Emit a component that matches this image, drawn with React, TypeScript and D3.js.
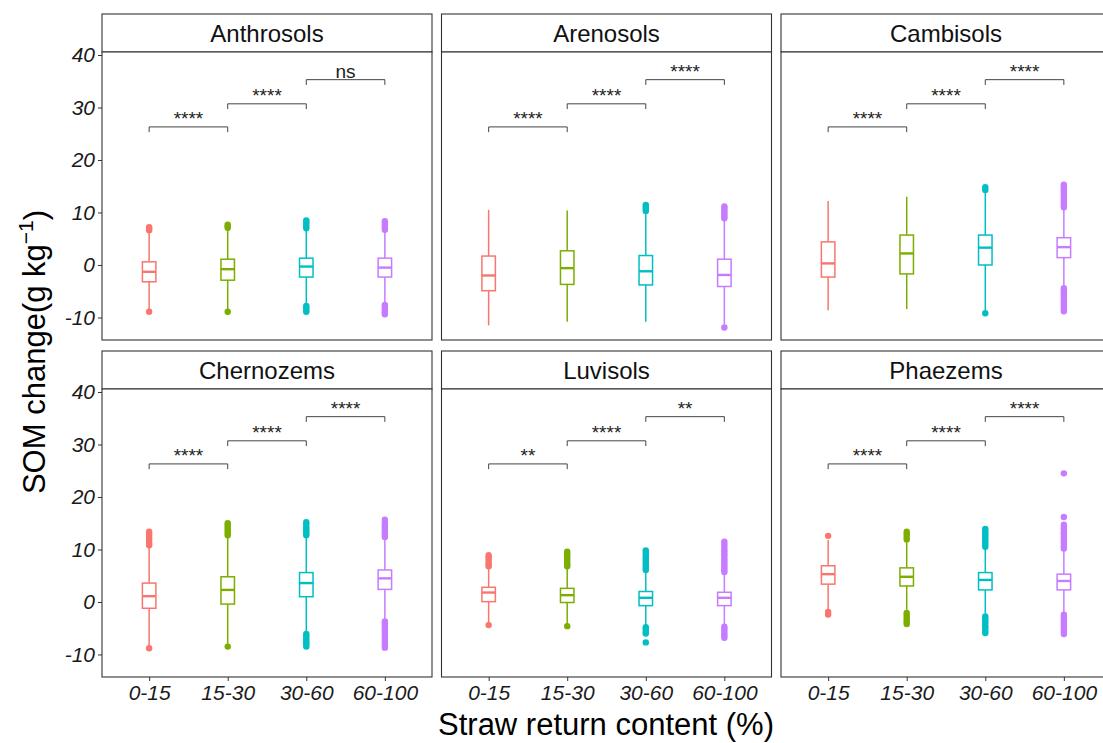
import React, { useRef, useEffect } from 'react';
import * as d3 from 'd3';

// Facets, groups and colours
const soils = ['Anthrosols', 'Arenosols', 'Cambisols', 'Chernozems', 'Luvisols', 'Phaezems'];
const groups = ['0-15', '15-30', '30-60', '60-100'];
const colors = ['#F8766D', '#7CAE00', '#00BFC4', '#C77CFF'];
const yTicks = [-10, 0, 10, 20, 30, 40];

// Box stats per group: [lower whisker, q1, median, q3, upper whisker]
const anthrosolsStats = [
  [-8.5, -3.2, -1.3, 0.6, 6.3],
  [-8.5, -2.9, -0.8, 1.1, 6.8],
  [-7.4, -2.3, -0.3, 1.3, 6.6],
  [-7.2, -2.3, -0.5, 1.3, 6.4],
];
const arenosolsStats = [
  [-11.5, -4.9, -2.0, 1.7, 10.5],
  [-10.8, -3.7, -0.6, 2.7, 10.4],
  [-10.8, -3.8, -1.2, 1.8, 9.9],
  [-11.3, -4.1, -1.9, 1.1, 8.6],
];
const cambisolsStats = [
  [-8.6, -2.3, 0.3, 4.4, 12.2],
  [-8.4, -1.7, 2.2, 5.7, 13.0],
  [-8.7, 0.0, 3.3, 5.7, 13.8],
  [-3.9, 1.4, 3.4, 5.2, 10.6],
];
const chernozemsStats = [
  [-8.5, -1.2, 1.1, 3.6, 10.4],
  [-8.2, -0.4, 2.3, 4.8, 12.4],
  [-5.6, 1.0, 3.6, 5.6, 12.4],
  [-3.3, 2.4, 4.5, 6.1, 12.0],
];
const luvisolsStats = [
  [-4.0, 0.06, 1.8, 2.8, 6.5],
  [-4.1, -0.1, 1.3, 2.6, 6.5],
  [-4.4, -0.7, 0.8, 2.0, 5.9],
  [-4.3, -0.7, 0.8, 1.85, 5.5],
];
const phaezemsStats = [
  [-1.6, 3.4, 5.3, 6.9, 11.8],
  [-1.5, 3.05, 4.8, 6.5, 11.4],
  [-2.2, 2.3, 4.2, 5.6, 10.1],
  [-1.9, 2.3, 4.0, 5.3, 9.8],
];

// Outlier points per group
const anthrosolsOutliers = [
  [6.6, 6.9, 7.2, -8.9],
  [7.1, 7.4, 7.65, -8.9],
  [7.0, 7.4, 7.8, 8.2, 8.5, -7.8, -8.2, -8.6, -8.9],
  [6.7, 7.1, 7.5, 7.9, 8.35, -7.6, -8.0, -8.4, -8.8, -9.1, -9.4],
];
const arenosolsOutliers = [
  [],
  [],
  [10.3, 10.7, 11.1, 11.45],
  [8.9, 9.3, 9.7, 10.1, 10.5, 10.85, 11.15, -11.9],
];
const cambisolsOutliers = [
  [],
  [],
  [14.3, 14.8, -9.2],
  [11.0, 11.4, 11.8, 12.2, 12.6, 13.0, 13.4, 13.8, 14.2, 14.6, 15.0, 15.3,
    -4.4, -4.8, -5.2, -5.6, -6.0, -6.4, -6.8, -7.2, -7.6, -8.0, -8.4, -8.8],
];
const chernozemsOutliers = [
  [10.8, 11.2, 11.7, 12.1, 12.6, 13.0, 13.4, -8.8],
  [12.7, 13.1, 13.5, 13.9, 14.3, 14.7, 15.0, -8.5],
  [12.7, 13.1, 13.5, 13.9, 14.3, 14.8, 15.2, -6.1, -6.5, -6.9, -7.3, -7.7, -8.1, -8.5],
  [12.4, 12.8, 13.3, 13.7, 14.2, 14.6, 15.1, 15.65,
    -3.7, -4.1, -4.6, -5.0, -5.5, -5.9, -6.4, -6.8, -7.3, -7.8, -8.2, -8.7],
];
const luvisolsOutliers = [
  [6.8, 7.2, 7.6, 8.1, 8.5, 8.9, -4.4],
  [6.8, 7.2, 7.6, 8.0, 8.4, 8.8, 9.2, 9.6, -4.6],
  [6.1, 6.5, 6.9, 7.3, 7.7, 8.2, 8.6, 9.0, 9.4, 9.8, -4.8, -5.2, -5.6, -6.0, -7.7],
  [5.7, 6.1, 6.5, 6.9, 7.4, 7.8, 8.2, 8.7, 9.1, 9.6, 10.0, 10.5, 11.0, 11.5,
    -4.7, -5.1, -5.5, -6.0, -6.4, -6.8],
];
const phaezemsOutliers = [
  [12.6, -1.9, -2.4],
  [11.9, 12.4, 12.9, 13.4, -2.1, -2.5, -3.0, -3.4, -3.8, -4.2],
  [10.5, 10.9, 11.4, 11.8, 12.3, 12.7, 13.1, 13.5, 13.9,
    -2.75, -3.2, -3.6, -4.1, -4.6, -5.0, -5.5, -5.9],
  [24.5, 16.2, 10.2, 10.6, 11.1, 11.5, 12.0, 12.4, 12.9, 13.3, 13.8, 14.2, 14.7,
    -2.4, -2.8, -3.3, -3.7, -4.2, -4.7, -5.1, -5.6, -6.1],
];

// Significance labels for 0-15 vs 15-30, 15-30 vs 30-60, 30-60 vs 60-100
const anthrosolsSig = ['****', '****', 'ns'];
const arenosolsSig = ['****', '****', '****'];
const cambisolsSig = ['****', '****', '****'];
const chernozemsSig = ['****', '****', '****'];
const luvisolsSig = ['**', '****', '**'];
const phaezemsSig = ['****', '****', '****'];
const bracketY = [26.3, 30.7, 35.3];

const statsList = [anthrosolsStats, arenosolsStats, cambisolsStats, chernozemsStats, luvisolsStats, phaezemsStats];
const outlierList = [anthrosolsOutliers, arenosolsOutliers, cambisolsOutliers, chernozemsOutliers, luvisolsOutliers, phaezemsOutliers];
const sigList = [anthrosolsSig, arenosolsSig, cambisolsSig, chernozemsSig, luvisolsSig, phaezemsSig];

const FONT = "'Liberation Sans', Arial, sans-serif";

const FacetBoxplot = () => {
  const svgRef = useRef(null);

  useEffect(() => {
    const W = 1103;
    const H = 743;
    const svg = d3.select(svgRef.current).attr('width', W).attr('height', H);
    svg.selectAll('*').remove();

    // Panel layout
    const colLeft = [102, 441.5, 781];
    const rowTop = [14, 351];
    const panelW = 330;
    const stripH = 38;
    const plotH = 288;
    const boxW = 13.5;

    const x = d3.scalePoint().domain(groups).range([0, panelW]).padding(0.6);
    const y = d3.scaleLinear().domain([-14.29, 40.57]).range([plotH, 0]);

    soils.forEach((soil, i) => {
      const col = i % 3;
      const row = Math.floor(i / 3);
      const g = svg.append('g').attr('transform', `translate(${colLeft[col]}, ${rowTop[row]})`);

      // strip
      g.append('rect')
        .attr('x', 0).attr('y', 0).attr('width', panelW).attr('height', stripH)
        .style('fill', '#fff').style('stroke', '#333').style('stroke-width', 1.1);
      g.append('text')
        .text(soil)
        .attr('x', panelW / 2).attr('y', stripH / 2 + 8.5)
        .attr('text-anchor', 'middle')
        .style('font-family', FONT).style('font-size', '24px').style('fill', '#111');

      const p = g.append('g').attr('transform', `translate(0, ${stripH})`);
      p.append('rect')
        .attr('width', panelW).attr('height', plotH)
        .style('fill', '#fff');

      // boxes
      groups.forEach((grp, j) => {
        const [lo, q1, med, q3, hi] = statsList[i][j];
        const cx = x(grp);
        const c = colors[j];
        p.selectAll(`.out-${j}`)
          .data(outlierList[i][j])
          .join('circle')
          .attr('class', `out-${j}`)
          .attr('cx', cx).attr('cy', (d) => y(d)).attr('r', 3.2)
          .style('fill', c);
        p.append('line').attr('x1', cx).attr('x2', cx).attr('y1', y(q3)).attr('y2', y(hi))
          .style('stroke', c).style('stroke-width', 1.5);
        p.append('line').attr('x1', cx).attr('x2', cx).attr('y1', y(q1)).attr('y2', y(lo))
          .style('stroke', c).style('stroke-width', 1.5);
        p.append('rect')
          .attr('x', cx - boxW / 2).attr('y', y(q3))
          .attr('width', boxW).attr('height', y(q1) - y(q3))
          .style('fill', '#fff').style('stroke', c).style('stroke-width', 1.5);
        p.append('line')
          .attr('x1', cx - boxW / 2).attr('x2', cx + boxW / 2).attr('y1', y(med)).attr('y2', y(med))
          .style('stroke', c).style('stroke-width', 2.4);
      });

      // significance brackets
      sigList[i].forEach((lab, k) => {
        const x1 = x(groups[k]);
        const x2 = x(groups[k + 1]);
        const by = y(bracketY[k]);
        const tip = y(bracketY[k] - 1.0);
        p.append('path')
          .attr('d', `M${x1},${tip}V${by}H${x2}V${tip}`)
          .style('fill', 'none').style('stroke', '#444').style('stroke-width', 1);
        p.append('text')
          .text(lab)
          .attr('x', (x1 + x2) / 2).attr('y', by - 2)
          .attr('text-anchor', 'middle')
          .style('font-family', FONT).style('font-size', '19px').style('fill', '#222');
      });

      // panel border
      p.append('rect')
        .attr('width', panelW).attr('height', plotH)
        .style('fill', 'none').style('stroke', '#333').style('stroke-width', 1.1);

      // y axis on first column
      if (col === 0) {
        const yAxis = d3.axisLeft(y).tickValues(yTicks).tickFormat((d) => String(d)).tickSize(4).tickPadding(3);
        const ya = p.append('g').call(yAxis);
        ya.select('.domain').remove();
        ya.selectAll('line').style('stroke', '#333');
        ya.selectAll('text')
          .style('font-family', FONT).style('font-size', '21px')
          .style('font-style', 'italic').style('fill', '#1a1a1a');
      }

      // x axis on bottom row
      if (row === 1) {
        const xAxis = d3.axisBottom(x).tickSize(4).tickPadding(4);
        const xa = p.append('g').attr('transform', `translate(0, ${plotH})`).call(xAxis);
        xa.select('.domain').remove();
        xa.selectAll('line').style('stroke', '#333');
        xa.selectAll('text')
          .style('font-family', FONT).style('font-size', '21px')
          .style('font-style', 'italic').style('fill', '#1a1a1a');
      }
    });

    // axis titles
    svg.append('text')
      .text('Straw return content (%)')
      .attr('x', 606).attr('y', 735)
      .attr('text-anchor', 'middle')
      .style('font-family', FONT).style('font-size', '31px').style('fill', '#000');

    const yt = svg.append('text')
      .attr('transform', 'translate(45, 352) rotate(-90)')
      .attr('text-anchor', 'middle')
      .style('font-family', FONT).style('font-size', '31px').style('fill', '#000');
    yt.append('tspan').text('SOM change(g kg');
    yt.append('tspan').text('\u22121').attr('dy', '-0.55em').style('font-size', '21px');
    yt.append('tspan').text(')').attr('dy', '0.4em');
  }, []);

  return <svg ref={svgRef} style={{ position: 'absolute', left: 0, top: 0, display: 'block' }}></svg>;
};

export default function App() {
  return <FacetBoxplot />;
}
